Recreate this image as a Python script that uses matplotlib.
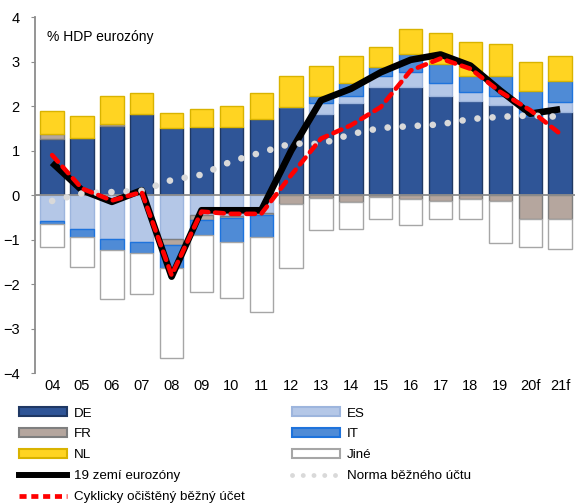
import numpy as np
import matplotlib.pyplot as plt
from matplotlib.patches import Patch
from matplotlib.lines import Line2D

plt.rcParams['font.family'] = ['Liberation Sans', 'DejaVu Sans']

years = ['04', '05', '06', '07', '08', '09', '10', '11', '12', '13', '14', '15',
         '16', '17', '18', '19', '20f', '21f']

de = [1.27, 1.29, 1.56, 1.83, 1.50, 1.53, 1.53, 1.70, 1.98, 1.83, 2.07, 2.44,
      2.43, 2.23, 2.11, 2.02, 1.77, 1.86]
es = [-0.58, -0.77, -0.98, -1.05, -0.99, -0.45, -0.47, -0.41, 0.0, 0.24, 0.15, 0.23,
      0.33, 0.29, 0.21, 0.20, 0.0, 0.23]
fr = [0.11, 0.0, 0.03, 0.0, -0.14, -0.11, -0.05, -0.04, -0.19, -0.07, -0.16, -0.05,
      -0.09, -0.13, -0.09, -0.13, -0.54, -0.54]
it = [-0.07, -0.18, -0.25, -0.26, -0.51, -0.34, -0.53, -0.50, 0.0, 0.16, 0.30, 0.22,
      0.42, 0.43, 0.35, 0.45, 0.58, 0.47]
nl = [0.51, 0.48, 0.63, 0.47, 0.35, 0.40, 0.48, 0.60, 0.69, 0.68, 0.60, 0.43,
      0.55, 0.70, 0.77, 0.73, 0.64, 0.56]
other = [-0.51, -0.66, -1.11, -0.91, -2.01, -1.27, -1.25, -1.68, -1.45, -0.72, -0.59, -0.49,
         -0.57, -0.41, -0.45, -0.94, -0.62, -0.66]

ez19 = [0.73, 0.11, -0.15, 0.11, -1.83, -0.34, -0.34, -0.34, 1.0, 2.13, 2.39, 2.76,
        3.04, 3.16, 2.91, 2.35, 1.83, 1.93]
cyc = [0.90, 0.15, -0.12, 0.07, -1.80, -0.37, -0.42, -0.42, 0.45, 1.27, 1.57, 1.98,
       2.80, 3.07, 2.84, 2.32, 1.91, 1.38]
norm = [-0.13, 0.04, 0.07, 0.10, 0.34, 0.46, 0.76, 0.96, 1.16, 1.15, 1.37, 1.51,
        1.55, 1.59, 1.71, 1.76, 1.79, 1.76]

series = [
    ('DE', de, '#2F5597', '#1F3864'),
    ('ES', es, '#B4C7E7', '#9DB5DD'),
    ('FR', fr, '#B5A69E', '#7F7F7F'),
    ('IT', it, '#4F8BD6', '#1E73DC'),
    ('NL', nl, '#FFD422', '#D9B300'),
    ('Jiné', other, '#FFFFFF', '#A6A6A6'),
]

fig = plt.figure(figsize=(5.75, 5.03), dpi=100)
ax = fig.add_axes([0.061, 0.258, 0.939, 0.708])

x = np.arange(len(years))
pos = np.zeros(len(years))
neg = np.zeros(len(years))
for name, vals, fc, ec in series:
    v = np.array(vals)
    bottom = np.where(v >= 0, pos, neg)
    ax.bar(x, v, 0.78, bottom=bottom, color=fc, edgecolor=ec, linewidth=1.0, zorder=2)
    pos = pos + np.where(v > 0, v, 0)
    neg = neg + np.where(v < 0, v, 0)

ax.axhline(0, color='#8C8C8C', lw=1.3, zorder=3)

ax.plot(x, ez19, color='black', lw=4.8, solid_capstyle='butt', zorder=4)
ax.plot(x, norm, color='#D9D9D9', lw=4.8, linestyle=(0, (0.01, 2.25)),
        dash_capstyle='round', zorder=5)
ax.plot(x, cyc, color='#FF0000', lw=3.3, linestyle=(0, (1.9, 1.5)),
        dash_capstyle='round', zorder=6)

ax.set_xlim(-0.57, 17.5)
ax.set_ylim(-4, 4)
ax.set_yticks(range(-4, 5))
ax.set_xticks(x)
ax.set_xticklabels(years)
ax.tick_params(axis='x', length=0, pad=4, labelsize=10.5)
ax.tick_params(axis='y', length=3, color='#8C8C8C', labelsize=10.5, pad=8)
for s in ['top', 'right', 'bottom']:
    ax.spines[s].set_visible(False)
ax.spines['left'].set_color('#8C8C8C')
ax.spines['left'].set_linewidth(1.3)

ax.text(0.022, 0.945, '% HDP eurozóny', transform=ax.transAxes, fontsize=10,
        va='center', ha='left')

handles = {
    name: Patch(facecolor=fc, edgecolor=ec, linewidth=1.5)
    for name, vals, fc, ec in series
}
h_ez = Line2D([], [], color='black', lw=4.3)
h_norm = Line2D([], [], color='#D9D9D9', lw=3.5, linestyle=(0, (0.01, 2.2)),
                dash_capstyle='round')
h_cyc = Line2D([], [], color='#FF0000', lw=3.4, linestyle=(0, (1.5, 1.0)))

hs = [handles['DE'], handles['FR'], handles['NL'], h_ez, h_cyc,
      handles['ES'], handles['IT'], handles['Jiné'], h_norm]
ls = ['DE', 'FR', 'NL', '19 zemí eurozóny', 'Cyklicky očištěný běžný účet',
      'ES', 'IT', 'Jiné', 'Norma běžného účtu']
fig.legend(hs, ls, loc='upper left', bbox_to_anchor=(0.033, 0.19), ncol=2,
           frameon=False, fontsize=9.6, handlelength=3.6, handleheight=0.65,
           handletextpad=0.5, labelspacing=0.66, columnspacing=3.6,
           borderaxespad=0, borderpad=0)

fig.savefig('out.png', dpi=100)
